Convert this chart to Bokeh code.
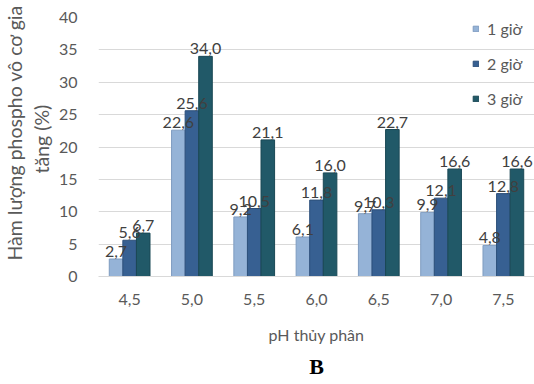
from bokeh.plotting import figure
from bokeh.models import ColumnDataSource, Legend, LegendItem, Title, SingleIntervalTicker, LabelSet
from bokeh.transform import dodge
from bokeh.core.properties import value
from bokeh.embed import file_html
from bokeh.resources import INLINE

# pH levels and phosphorus gain (%) after 1, 2 and 3 hours of hydrolysis
ph_levels = ["4,5", "5,0", "5,5", "6,0", "6,5", "7,0", "7,5"]
gain_1h = [2.7, 22.6, 9.2, 6.1, 9.7, 9.9, 4.8]
gain_2h = [5.6, 25.6, 10.5, 11.8, 10.3, 12.1, 12.8]
gain_3h = [6.7, 34.0, 21.1, 16.0, 22.7, 16.6, 16.6]
series_names = ["1 giờ", "2 giờ", "3 giờ"]
y_title_lines = ["Hàm lượng phospho vô cơ gia", "tăng (%)"]
x_title = "pH thủy phân"
panel_letter = "B"

FONT = "Lato"
TEXT_GRAY = "#595959"
LABEL_GRAY = "#404040"
fills = ["#95b3d7", "#376092", "#215968"]
edges = ["#7f9cc0", "#2c4f7a", "#1a4855"]

def fmt(v):
    return f"{v:.1f}".replace(".", ",")

src = ColumnDataSource(dict(
    ph=ph_levels,
    g1=gain_1h, g2=gain_2h, g3=gain_3h,
    t1=[fmt(v) for v in gain_1h],
    t2=[fmt(v) for v in gain_2h],
    t3=[fmt(v) for v in gain_3h],
))

p = figure(x_range=ph_levels, y_range=(0, 40), width=534, height=384,
           output_backend="svg", toolbar_location=None,
           min_border_left=95, min_border_right=0, min_border_top=17, min_border_bottom=108)
p.outline_line_color = None
p.background_fill_color = "white"
p.border_fill_color = "white"

bw = 0.218
offsets = [-bw, 0.0, bw]
cols = ["g1", "g2", "g3"]
txts = ["t1", "t2", "t3"]
renderers = []
for col, txt, off, fc, ec in zip(cols, txts, offsets, fills, edges):
    r = p.vbar(x=dodge("ph", off, range=p.x_range), top=col, width=bw, source=src,
               fill_color=fc, line_color=ec, line_width=1)
    renderers.append(r)
    labels = LabelSet(x=dodge("ph", off, range=p.x_range), y=col, text=txt, source=src,
                      text_align="center", text_baseline="bottom", y_offset=2,
                      text_font=value(FONT), text_font_size=value("16px"),
                      text_color=LABEL_GRAY)
    p.add_layout(labels)

legend = Legend(items=[LegendItem(label=n, renderers=[r]) for n, r in zip(series_names, renderers)],
                location=(372, 166), spacing=16, glyph_width=7, glyph_height=7,
                label_text_font=FONT, label_text_font_size="16px", label_text_color=TEXT_GRAY,
                background_fill_alpha=0, border_line_alpha=0, label_standoff=8, padding=2,
                margin=0)
p.add_layout(legend)

p.yaxis.ticker = SingleIntervalTicker(interval=5)
p.yaxis.axis_line_color = None
p.yaxis.major_tick_line_color = None
p.yaxis.minor_tick_line_color = None
p.yaxis.major_label_text_font = FONT
p.yaxis.major_label_text_font_size = "16px"
p.yaxis.major_label_text_color = TEXT_GRAY
p.yaxis.major_label_standoff = 15

p.xaxis.axis_line_color = "#d9d9d9"
p.xaxis.major_tick_line_color = None
p.xaxis.minor_tick_line_color = None
p.xaxis.major_label_text_font = FONT
p.xaxis.major_label_text_font_size = "16px"
p.xaxis.major_label_text_color = TEXT_GRAY
p.xaxis.major_label_standoff = 11
p.xaxis.axis_label = x_title
p.xaxis.axis_label_text_font = FONT
p.xaxis.axis_label_text_font_size = "16px"
p.xaxis.axis_label_text_font_style = "normal"
p.xaxis.axis_label_text_color = TEXT_GRAY
p.xaxis.axis_label_standoff = 17

p.xgrid.grid_line_color = None
p.ygrid.grid_line_color = "#d9d9d9"
p.ygrid.grid_line_width = 1

# two-line y-axis title: inner line first, outer line stacked beyond it;
# each is anchored from the bottom so both lines share one centre
p.add_layout(Title(text=y_title_lines[1], align="left", offset=103, standoff=5,
                   text_font=FONT, text_font_size="19.5px", text_font_style="normal",
                   text_color=TEXT_GRAY), "left")
p.add_layout(Title(text=y_title_lines[0], align="left", offset=16, standoff=0,
                   text_font=FONT, text_font_size="19.5px", text_font_style="normal",
                   text_color=TEXT_GRAY), "left")

# panel letter under the chart
p.add_layout(Title(text=panel_letter, align="center", offset=-55, standoff=10,
                   text_font="Liberation Serif", text_font_style="bold",
                   text_font_size="22px", text_line_height=0.6, text_color="black"), "below")

open("out.html", "w").write(file_html(p, INLINE))
